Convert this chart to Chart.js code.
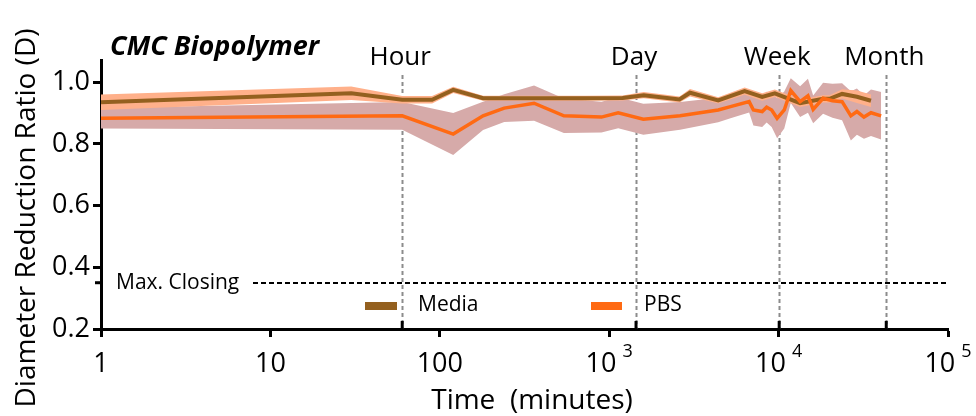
<!DOCTYPE html>
<html>
<head>
<meta charset="utf-8">
<script src="https://cdn.jsdelivr.net/npm/chart.js@4.4.0/dist/chart.umd.min.js"></script>
<style>
  html, body { margin: 0; padding: 0; background: #fff; }
  canvas { display: block; }
</style>
</head>
<body>
<canvas id="chart" width="976" height="416"></canvas>
<script>
// values (time in minutes, ratio D)
const mediaTime = [1, 30, 60, 90, 120, 180, 240, 360, 480, 720, 1200, 1600, 2600, 3000, 4400, 6300, 8000, 9500, 13400, 18300, 20000, 23700, 29000, 35100];
const mediaMean = [0.935, 0.964, 0.943, 0.943, 0.975, 0.948, 0.948, 0.948, 0.948, 0.948, 0.949, 0.958, 0.944, 0.966, 0.941, 0.971, 0.952, 0.964, 0.932, 0.946, 0.946, 0.962, 0.953, 0.940];
const mediaSd = [0.025, 0.022, 0.012, 0.012, 0.01, 0.008, 0.008, 0.008, 0.008, 0.008, 0.008, 0.01, 0.01, 0.012, 0.01, 0.012, 0.012, 0.012, 0.012, 0.012, 0.012, 0.015, 0.02, 0.02];

const pbsTime = [1, 60, 120, 180, 240, 360, 540, 900, 1130, 1590, 2620, 4400, 5200, 6700, 7100, 8000, 8500, 9100, 9800, 10800, 11800, 13400, 14900, 16000, 18300, 20800, 23700, 26700, 29000, 31900, 35100, 40300];
const pbsMean = [0.883, 0.891, 0.832, 0.891, 0.916, 0.932, 0.891, 0.887, 0.901, 0.880, 0.891, 0.910, 0.921, 0.937, 0.910, 0.905, 0.919, 0.910, 0.883, 0.910, 0.973, 0.937, 0.956, 0.912, 0.948, 0.940, 0.937, 0.891, 0.905, 0.887, 0.901, 0.891];
const pbsSd = [0.033, 0.045, 0.068, 0.046, 0.045, 0.057, 0.056, 0.05, 0.05, 0.05, 0.045, 0.04, 0.038, 0.035, 0.05, 0.05, 0.05, 0.055, 0.065, 0.06, 0.04, 0.05, 0.055, 0.045, 0.05, 0.055, 0.06, 0.08, 0.075, 0.07, 0.075, 0.077];

const xTickValues = [1, 10, 100, 1000, 10000, 100000];
const yTickValues = [0.2, 0.4, 0.6, 0.8, 1.0];
const markerTimes = [60, 1440, 10080, 43200];
const markerLabels = ['Hour', 'Day', 'Week', 'Month'];
const maxClosing = 0.35;

const FONT = '"Open Sans", "DejaVu Sans", sans-serif';
const mediaColor = '#94601f';
const mediaBand = '#ffb08a';
const pbsColor = '#ff6a13';
const pbsBand = '#d6aaa9';

function toPoints(times, vals) {
    return times.map((t, i) => ({ x: t, y: vals[i] }));
}
const mediaHi = mediaMean.map((m, i) => m + mediaSd[i]);
const mediaLo = mediaMean.map((m, i) => m - mediaSd[i]);
const pbsHi = pbsMean.map((m, i) => m + pbsSd[i]);
const pbsLo = pbsMean.map((m, i) => m - pbsSd[i]);

// dashed guides, drawn under the data
const guidesPlugin = {
    id: 'guides',
    beforeDatasetsDraw(chart) {
        const { ctx, chartArea, scales } = chart;
        ctx.save();
        ctx.strokeStyle = '#8c8c8c';
        ctx.lineWidth = 2;
        ctx.setLineDash([4, 3]);
        markerTimes.forEach(t => {
            const px = Math.round(scales.x.getPixelForValue(t)) + 0.5;
            ctx.beginPath();
            ctx.moveTo(px, chartArea.top + 15);
            ctx.lineTo(px, chartArea.bottom);
            ctx.stroke();
        });
        const py = Math.round(scales.y.getPixelForValue(maxClosing));
        ctx.strokeStyle = '#000';
        ctx.setLineDash([5, 3]);
        ctx.beginPath();
        ctx.moveTo(253, py);
        ctx.lineTo(946, py);
        ctx.stroke();
        ctx.restore();
    }
};

// texts, extra ticks, legend
const labelsPlugin = {
    id: 'labels',
    afterDraw(chart) {
        const { ctx, chartArea, scales } = chart;
        const xs = scales.x, ys = scales.y;
        ctx.save();
        ctx.fillStyle = '#000';

        // inner ticks at hour/day/week/month
        ctx.strokeStyle = '#000';
        ctx.lineWidth = 3;
        markerTimes.forEach(t => {
            const px = xs.getPixelForValue(t);
            ctx.beginPath();
            ctx.moveTo(px, chartArea.bottom);
            ctx.lineTo(px, chartArea.bottom - 8);
            ctx.stroke();
        });
        const mcY = ys.getPixelForValue(maxClosing);
        ctx.beginPath();
        ctx.moveTo(chartArea.left, mcY);
        ctx.lineTo(chartArea.left - 6, mcY);
        ctx.stroke();

        // marker labels
        ctx.font = '26px ' + FONT;
        ctx.textAlign = 'center';
        ctx.textBaseline = 'alphabetic';
        markerTimes.forEach((t, i) => {
            ctx.fillText(markerLabels[i], xs.getPixelForValue(t) - 2, 65);
        });

        // title
        ctx.textAlign = 'left';
        ctx.font = 'italic bold 27px ' + FONT;
        ctx.fillText('CMC Biopolymer', 110, 55);

        ctx.font = '21px ' + FONT;
        ctx.fillText('Max. Closing', 116, mcY + 6);

        // x tick labels with superscripts
        xTickValues.forEach(v => {
            const px = xs.getPixelForValue(v);
            const exp = Math.round(Math.log10(v));
            if (exp < 3) {
                ctx.font = '27px ' + FONT;
                ctx.textAlign = 'center';
                ctx.fillText(String(v), px, 372);
            } else {
                ctx.font = '27px ' + FONT;
                const w1 = ctx.measureText('10').width;
                ctx.font = '18px ' + FONT;
                const w2 = ctx.measureText(String(exp)).width;
                const gap = 6;
                const start = px - (w1 + gap + w2) / 2;
                ctx.textAlign = 'left';
                ctx.font = '27px ' + FONT;
                ctx.fillText('10', start, 372);
                ctx.font = '18px ' + FONT;
                ctx.fillText(String(exp), start + w1 + gap, 357);
            }
        });

        // axis titles
        ctx.font = '28px ' + FONT;
        ctx.textAlign = 'center';
        ctx.fillText('Time  (minutes)', 532, 409);
        ctx.save();
        ctx.translate(27, 218);
        ctx.rotate(-Math.PI / 2);
        ctx.textBaseline = 'middle';
        ctx.fillText('Diameter Reduction Ratio (D)', 0, 0);
        ctx.restore();

        // legend
        ctx.font = '21px ' + FONT;
        ctx.textAlign = 'left';
        ctx.textBaseline = 'middle';
        ctx.fillStyle = mediaColor;
        ctx.fillRect(365, 302, 32, 8);
        ctx.fillStyle = pbsColor;
        ctx.fillRect(591, 302, 31, 8);
        ctx.fillStyle = '#000';
        ctx.fillText('Media', 418, 305);
        ctx.fillText('PBS', 644, 305);
        ctx.restore();
    }
};

const ctx = document.getElementById('chart').getContext('2d');
const chart = new Chart(ctx, {
    type: 'line',
    data: {
        datasets: [{
            label: 'PBS',
            data: toPoints(pbsTime, pbsMean),
            borderColor: pbsColor,
            borderWidth: 3.5,
            pointRadius: 0,
            fill: false,
            order: 0
        }, {
            label: 'Media',
            data: toPoints(mediaTime, mediaMean),
            borderColor: mediaColor,
            borderWidth: 4,
            pointRadius: 0,
            fill: false,
            order: 1
        }, {
            label: 'Media hi',
            data: toPoints(mediaTime, mediaHi),
            borderColor: 'rgba(0,0,0,0)',
            borderWidth: 0,
            pointRadius: 0,
            fill: false,
            order: 2
        }, {
            label: 'Media lo',
            data: toPoints(mediaTime, mediaLo),
            borderColor: 'rgba(0,0,0,0)',
            backgroundColor: mediaBand,
            borderWidth: 0,
            pointRadius: 0,
            fill: 2,
            order: 3
        }, {
            label: 'PBS hi',
            data: toPoints(pbsTime, pbsHi),
            borderColor: 'rgba(0,0,0,0)',
            borderWidth: 0,
            pointRadius: 0,
            fill: false,
            order: 4
        }, {
            label: 'PBS lo',
            data: toPoints(pbsTime, pbsLo),
            borderColor: 'rgba(0,0,0,0)',
            backgroundColor: pbsBand,
            borderWidth: 0,
            pointRadius: 0,
            fill: 4,
            order: 5
        }]
    },
    options: {
        responsive: false,
        animation: false,
        events: [],
        layout: {
            padding: { left: 0, top: 60, right: 28, bottom: 0 }
        },
        plugins: {
            legend: { display: false },
            tooltip: { enabled: false }
        },
        scales: {
            x: {
                type: 'logarithmic',
                min: 1,
                max: 100000,
                afterBuildTicks: scale => {
                    scale.ticks = xTickValues.map(v => ({ value: v }));
                },
                ticks: { display: false },
                grid: {
                    drawOnChartArea: false,
                    drawTicks: true,
                    tickLength: 8,
                    tickWidth: 3,
                    tickColor: '#000'
                },
                border: { display: true, color: '#000', width: 3 },
                afterFit: scale => { scale.height = 87; }
            },
            y: {
                min: 0.2,
                max: 1.072,
                afterBuildTicks: scale => {
                    scale.ticks = yTickValues.map(v => ({ value: v }));
                },
                ticks: {
                    color: '#000',
                    padding: 3,
                    font: { family: FONT, size: 27 },
                    callback: v => Number(v).toFixed(1)
                },
                grid: {
                    drawOnChartArea: false,
                    drawTicks: true,
                    tickLength: 8,
                    tickWidth: 3,
                    tickColor: '#000'
                },
                border: { display: true, color: '#000', width: 3 },
                afterFit: scale => { scale.width = 101; }
            }
        }
    },
    plugins: [guidesPlugin, labelsPlugin]
});
</script>
</body>
</html>
